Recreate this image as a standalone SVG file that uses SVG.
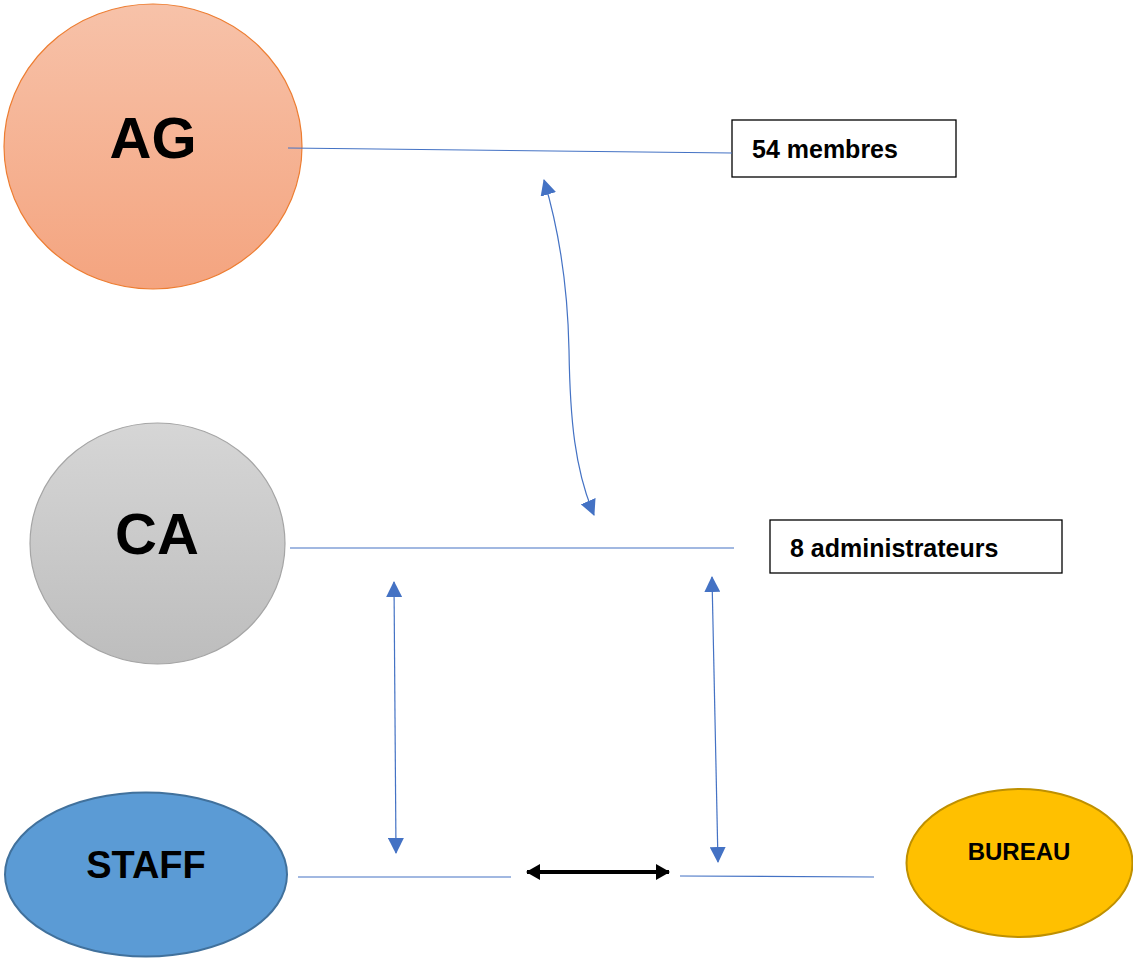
<svg xmlns="http://www.w3.org/2000/svg" width="1133" height="958" viewBox="0 0 1133 958">
<style>
.lbl{font-family:"Liberation Sans",Arial,sans-serif;font-weight:bold;fill:#000;}
.conn{stroke:#4472c4;stroke-width:1.2;fill:none;}
.box{fill:#fff;stroke:#000;stroke-width:1.3;}
</style>
<defs>
<linearGradient id="gAG" x1="0" y1="0" x2="0" y2="1"><stop offset="0" stop-color="#f7c2a9"/><stop offset="1" stop-color="#f4a47f"/></linearGradient>
<linearGradient id="gCA" x1="0" y1="0" x2="0" y2="1"><stop offset="0" stop-color="#d6d6d6"/><stop offset="1" stop-color="#bdbdbd"/></linearGradient>
<marker id="aEnd" markerUnits="userSpaceOnUse" markerWidth="16" markerHeight="16" refX="15" refY="8" orient="auto"><path d="M0,0 L16,8 L0,16 Z" fill="#4472c4"/></marker>
<marker id="aStart" markerUnits="userSpaceOnUse" markerWidth="16" markerHeight="16" refX="1" refY="8" orient="auto"><path d="M16,0 L0,8 L16,16 Z" fill="#4472c4"/></marker>
<marker id="bEnd" markerUnits="userSpaceOnUse" markerWidth="14" markerHeight="16" refX="13" refY="8" orient="auto"><path d="M0,0 L14,8 L0,16 Z" fill="#000"/></marker>
<marker id="bStart" markerUnits="userSpaceOnUse" markerWidth="14" markerHeight="16" refX="1" refY="8" orient="auto"><path d="M14,0 L0,8 L14,16 Z" fill="#000"/></marker>
</defs>
<g id="AG">
<ellipse cx="153" cy="146.5" rx="149" ry="142.5" fill="url(#gAG)" stroke="#ed7d31" stroke-width="1.2"/>
<text class="lbl" x="153" y="158" font-size="58" text-anchor="middle">AG</text>
</g>
<g id="CA">
<ellipse cx="157.5" cy="543.5" rx="127.5" ry="120.5" fill="url(#gCA)" stroke="#a5a5a5" stroke-width="1.2"/>
<text class="lbl" x="157" y="554" font-size="58" text-anchor="middle">CA</text>
</g>
<g id="STAFF">
<ellipse cx="146" cy="874.5" rx="141" ry="82" fill="#5b9bd5" stroke="#41719c" stroke-width="2"/>
<text class="lbl" x="146" y="878" font-size="38" text-anchor="middle">STAFF</text>
</g>
<g id="BUREAU">
<ellipse cx="1019.5" cy="863" rx="113" ry="74" fill="#ffc000" stroke="#bf9000" stroke-width="2"/>
<text class="lbl" x="1019" y="860" font-size="24" text-anchor="middle">BUREAU</text>
</g>
<g id="box54">
<rect class="box" x="732" y="120" width="224" height="57"/>
<text class="lbl" x="752" y="158" font-size="25">54 membres</text>
</g>
<g id="box8">
<rect class="box" x="770" y="520" width="292" height="53"/>
<text class="lbl" x="790" y="557" font-size="25">8 administrateurs</text>
</g>
<g id="connectors">
<line class="conn" x1="288" y1="148" x2="732" y2="153"/>
<line class="conn" x1="290" y1="548" x2="734" y2="548"/>
<line class="conn" x1="298" y1="877" x2="511" y2="877"/>
<line class="conn" x1="680" y1="876" x2="874" y2="877"/>
<path class="conn" d="M544,180 C562,240 568,300 569,350 C570,420 575,470 594,515" marker-start="url(#aStart)" marker-end="url(#aEnd)"/>
<line class="conn" x1="394" y1="582" x2="396" y2="853" marker-start="url(#aStart)" marker-end="url(#aEnd)"/>
<line class="conn" x1="712" y1="577" x2="718" y2="862" marker-start="url(#aStart)" marker-end="url(#aEnd)"/>
<line x1="527" y1="872" x2="669" y2="872" stroke="#000" stroke-width="4" marker-start="url(#bStart)" marker-end="url(#bEnd)"/>
</g>
</svg>
